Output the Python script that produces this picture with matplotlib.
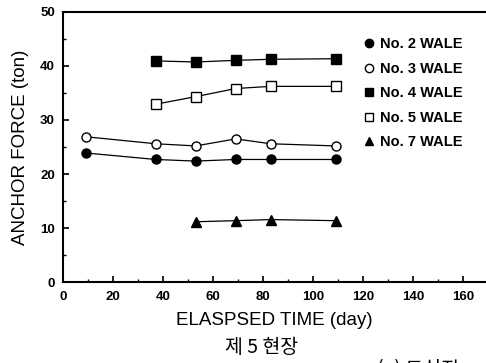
import numpy as np
import matplotlib
matplotlib.use('Agg')
import matplotlib.pyplot as plt
from matplotlib.ticker import MultipleLocator

plt.rcParams['font.family'] = ['Liberation Sans', 'Noto Sans CJK KR', 'DejaVu Sans']

# 데이터
days_no2 = [9, 37, 53, 69, 83, 109]
force_no2 = [23.9, 22.7, 22.4, 22.7, 22.7, 22.7]

days_no3 = [9, 37, 53, 69, 83, 109]
force_no3 = [26.9, 25.6, 25.2, 26.5, 25.6, 25.2]

days_no4 = [37, 53, 69, 83, 109]
force_no4 = [40.9, 40.7, 41.0, 41.2, 41.3]

days_no5 = [37, 53, 69, 83, 109]
force_no5 = [32.9, 34.3, 35.8, 36.2, 36.2]

days_no7 = [53, 69, 83, 109]
force_no7 = [11.2, 11.4, 11.6, 11.4]

labels = ['No. 2 WALE', 'No. 3 WALE', 'No. 4 WALE', 'No. 5 WALE', 'No. 7 WALE']

fig = plt.figure(figsize=(4.86, 3.63), dpi=100, facecolor='white')
ax = fig.add_axes([0.130, 0.222, 0.870, 0.746])

ms = 6.5
ax.plot(days_no2, force_no2, '-', color='black', lw=0.9, marker='o', ms=ms,
        mfc='black', mec='black', label=labels[0])
ax.plot(days_no3, force_no3, '-', color='black', lw=0.9, marker='o', ms=ms,
        mfc='white', mec='black', mew=1.0, label=labels[1])
ax.plot(days_no4, force_no4, '-', color='black', lw=0.9, marker='s', ms=ms,
        mfc='black', mec='black', label=labels[2])
ax.plot(days_no5, force_no5, '-', color='black', lw=0.9, marker='s', ms=ms,
        mfc='white', mec='black', mew=1.0, label=labels[3])
ax.plot(days_no7, force_no7, '-', color='black', lw=0.9, marker='^', ms=ms + 0.5,
        mfc='black', mec='black', label=labels[4])

ax.set_xlim(0, 169.1)
ax.set_ylim(0, 50)
ax.xaxis.set_major_locator(MultipleLocator(20))
ax.xaxis.set_minor_locator(MultipleLocator(10))
ax.yaxis.set_major_locator(MultipleLocator(10))
ax.yaxis.set_minor_locator(MultipleLocator(5))
ax.tick_params(which='major', direction='in', length=4, width=1.2, labelsize=9.5)
ax.tick_params(axis='x', which='major', pad=6)
ax.tick_params(axis='y', which='major', pad=6)
ax.tick_params(which='minor', direction='in', length=2.5, width=1.0)
ax.tick_params(top=False, right=False)
for lab in ax.get_xticklabels() + ax.get_yticklabels():
    lab.set_fontweight('bold')

ax.spines['right'].set_visible(False)
for s in ['left', 'bottom', 'top']:
    ax.spines[s].set_linewidth(1.5)

ax.set_xlabel('ELASPSED TIME (day)', fontsize=13.5, labelpad=7)
ax.set_ylabel('ANCHOR FORCE (ton)', fontsize=13.5, labelpad=8)

leg = ax.legend(loc='upper left', bbox_to_anchor=(0.712, 0.905), frameon=False,
                fontsize=10.5, handlelength=0.6, handletextpad=0.5,
                labelspacing=0.72, borderpad=0.0, borderaxespad=0.0)
for h in leg.legend_handles:
    h.set_linestyle('none')
    h.set_markersize(6)
for t in leg.get_texts():
    t.set_fontweight('bold')

fig.text(0.539, 0.044, '제 5 현장', ha='center', va='center', fontsize=14,
         family=['Noto Sans CJK KR', 'DejaVu Sans'])
fig.text(0.775, 0.012, '(a) 도심지', ha='left', va='top', fontsize=14,
         family=['Noto Sans CJK KR', 'DejaVu Sans'])

fig.savefig('out.png', dpi=100, facecolor='white')
